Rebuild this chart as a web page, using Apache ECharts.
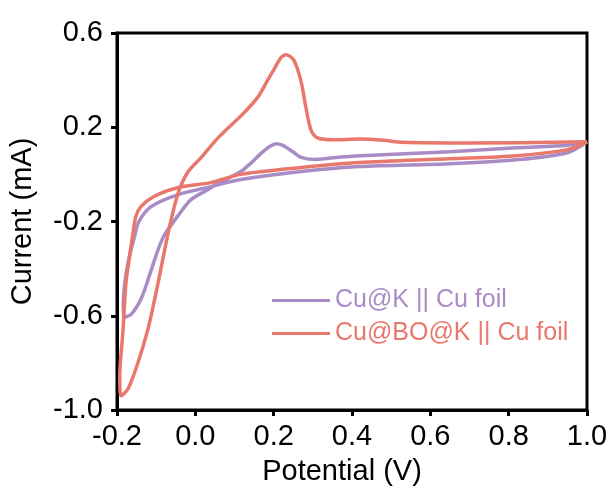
<!DOCTYPE html>
<html>
<head>
<meta charset="utf-8">
<script src="https://cdn.jsdelivr.net/npm/echarts@6/dist/echarts.min.js"></script>
<style>html,body{margin:0;padding:0;background:#fff}#c{width:612px;height:491px}</style>
</head>
<body>
<div id="c"></div>
<script>
const seriesNames = ['Cu@K || Cu foil', 'Cu@BO@K || Cu foil'];
const xTicks = [-0.2, 0.0, 0.2, 0.4, 0.6, 0.8, 1.0];
const yTicks = [-1.0, -0.6, -0.2, 0.2, 0.6];

const cuK = [
  [1.0, 0.138], [0.95, 0.092], [0.82, 0.062], [0.65, 0.045], [0.42, 0.033],
  [0.27, 0.012], [0.116, -0.022], [0.04, -0.052], [-0.044, -0.086], [-0.113, -0.137],
  [-0.144, -0.20], [-0.155, -0.263], [-0.17, -0.36], [-0.18, -0.46], [-0.184, -0.56],
  [-0.182, -0.606], [-0.164, -0.594], [-0.139, -0.530], [-0.118, -0.433], [-0.095, -0.319],
  [-0.078, -0.255], [-0.044, -0.175], [-0.011, -0.107], [0.032, -0.065], [0.058, -0.038],
  [0.116, 0.012], [0.142, 0.048], [0.165, 0.085], [0.19, 0.118], [0.207, 0.13],
  [0.222, 0.124], [0.249, 0.096], [0.269, 0.073], [0.302, 0.063], [0.353, 0.071],
  [0.422, 0.079], [0.65, 0.096], [0.82, 0.113], [0.95, 0.124], [1.0, 0.138]
];

const cuBOK = [
  [1.0, 0.138], [0.95, 0.105], [0.82, 0.079], [0.65, 0.066], [0.42, 0.050],
  [0.27, 0.029], [0.116, 0.0], [0.04, -0.035], [-0.044, -0.056], [-0.106, -0.094],
  [-0.139, -0.137], [-0.152, -0.179], [-0.159, -0.247], [-0.169, -0.361], [-0.177, -0.458],
  [-0.185, -0.67], [-0.193, -0.856], [-0.19, -0.94], [-0.172, -0.911], [-0.146, -0.797],
  [-0.121, -0.657], [-0.1, -0.50], [-0.083, -0.36], [-0.067, -0.23], [-0.044, -0.08],
  [-0.019, 0.01], [0.014, 0.07], [0.058, 0.155], [0.124, 0.261], [0.16, 0.329],
  [0.185, 0.401], [0.20, 0.443], [0.218, 0.494], [0.231, 0.508], [0.251, 0.486],
  [0.269, 0.401], [0.282, 0.287], [0.295, 0.19], [0.312, 0.155], [0.353, 0.147],
  [0.422, 0.150], [0.48, 0.145], [0.53, 0.136], [0.70, 0.133], [1.0, 0.138]
];

const colors = ['#a98cc6', '#e9786c'];
const font = 'Liberation Sans, Arial, sans-serif';

const chart = echarts.init(document.getElementById('c'), null, {renderer: 'canvas'});
chart.setOption({
  animation: false,
  backgroundColor: '#fff',
  grid: {left: 116, right: 25, top: 33, bottom: 80, show: true, borderColor: '#000', borderWidth: 3, containLabel: false},
  legend: {
    data: seriesNames,
    orient: 'vertical',
    left: 267, top: 283,
    icon: 'rect', itemWidth: 58, itemHeight: 3, itemGap: 8,
    textStyle: {fontFamily: font, fontSize: 25, color: 'inherit'}
  },
  xAxis: {
    type: 'value', min: xTicks[0], max: xTicks[xTicks.length - 1], interval: 0.2,
    name: 'Potential (V)', nameLocation: 'middle', nameGap: 47,
    nameTextStyle: {fontFamily: font, fontSize: 29, color: '#000', padding: [0, 20, 0, 0]},
    axisLine: {onZero: false, lineStyle: {color: '#000', width: 3}},
    axisTick: {inside: false, length: 6, lineStyle: {width: 3, color: '#000'}},
    axisLabel: {fontFamily: font, fontSize: 29, color: '#000', margin: 12, formatter: v => v.toFixed(1)},
    splitLine: {show: false}
  },
  yAxis: {
    type: 'value', min: yTicks[0], max: yTicks[yTicks.length - 1], interval: 0.4,
    name: 'Current (mA)', nameLocation: 'middle', nameGap: 80,
    nameTextStyle: {fontFamily: font, fontSize: 29, color: '#000'},
    axisLine: {onZero: false, lineStyle: {color: '#000', width: 3}},
    axisTick: {inside: false, length: 6, lineStyle: {width: 3, color: '#000'}},
    axisLabel: {fontFamily: font, fontSize: 29, color: '#000', margin: 14, formatter: v => v.toFixed(1)},
    splitLine: {show: false}
  },
  series: [
    {name: seriesNames[0], type: 'line', data: cuK, showSymbol: false, smooth: 0.3,
     lineStyle: {color: colors[0], width: 3.5}, itemStyle: {color: colors[0]}},
    {name: seriesNames[1], type: 'line', data: cuBOK, showSymbol: false, smooth: 0.3,
     lineStyle: {color: colors[1], width: 3.5}, itemStyle: {color: colors[1]}}
  ]
});
</script>
</body>
</html>
